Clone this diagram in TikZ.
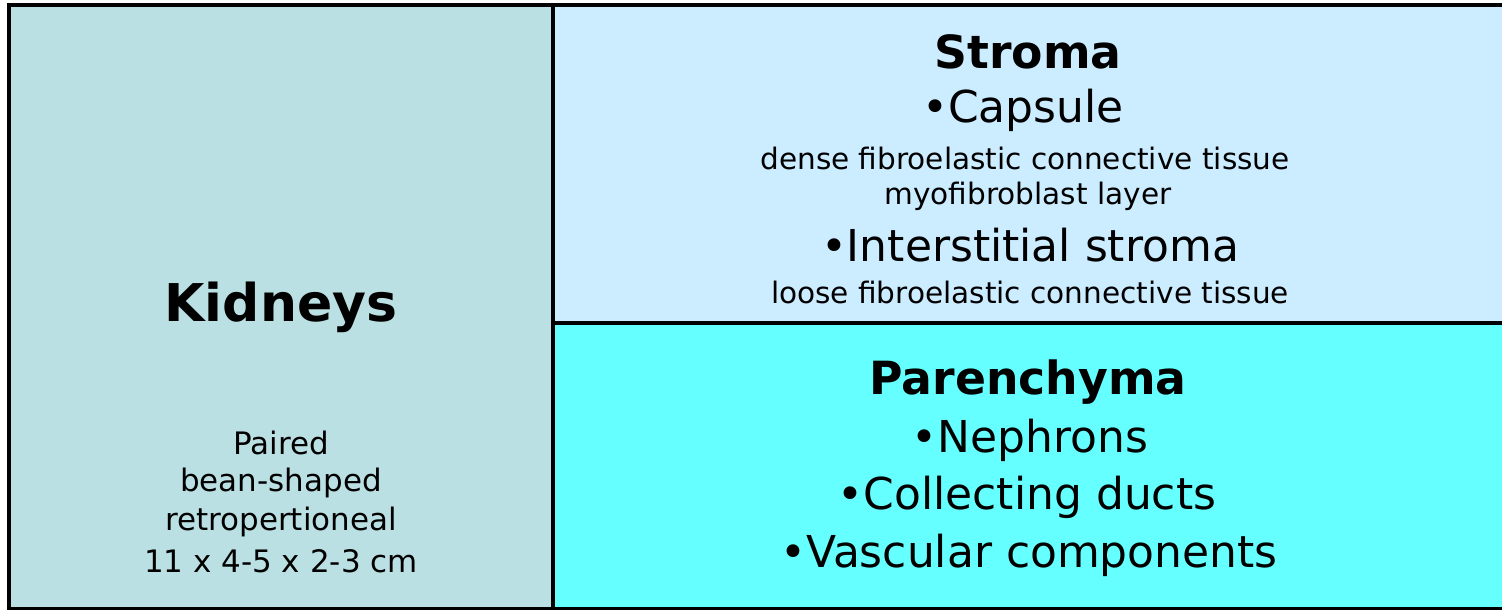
\documentclass[tikz,border=0pt]{standalone}
\usepackage{fontspec}
\setmainfont{DejaVu Sans}
\usetikzlibrary{positioning}
\definecolor{kidneyblue}{HTML}{BBE0E3}
\definecolor{stromablue}{HTML}{CCECFF}
\definecolor{parencyan}{HTML}{66FFFF}
\begin{document}
\begin{tikzpicture}[x=0.01cm, y=-0.01cm]
\tikzset{panel/.style={draw=black, line width=1.4pt}}
\tikzset{heading/.style={font=\fontsize{13}{15}\selectfont\bfseries, anchor=center, inner sep=0pt}}
\tikzset{entry/.style={font=\fontsize{12.5}{14}\selectfont, anchor=center, inner sep=0pt}}
\tikzset{detail/.style={font=\fontsize{8.4}{10}\selectfont, anchor=center, inner sep=0pt}}
\useasboundingbox (0,0) rectangle (1502,610);
% panels
\fill[kidneyblue] (9,5) rectangle (553,609);
\fill[stromablue] (553,5) rectangle (1502,323);
\fill[parencyan] (553,323) rectangle (1502,609);
\draw[panel] (1502,5) -- (9,5) -- (9,609) -- (1502,609);
\draw[panel] (553,5) -- (553,609);
\draw[panel] (553,323) -- (1502,323);
% left column
\node[heading, font=\fontsize{14.8}{16}\selectfont\bfseries] (kidneys) at (281,307) {Kidneys};
\node[detail, font=\fontsize{8.8}{10}\selectfont] (paired) at (281,443) {Paired};
\node[detail, font=\fontsize{8.8}{10}\selectfont] (bean) at (281,483) {bean-shaped};
\node[detail, font=\fontsize{8.8}{10}\selectfont] (retro) at (281,522) {retropertioneal};
\node[detail, font=\fontsize{8.8}{10}\selectfont] (size) at (281,561) {11 x 4-5 x 2-3 cm};
% stroma
\node[heading] (stroma) at (1028,52) {Stroma};
\node[entry] (capsule) at (1023,110) {•Capsule};
\node[detail] (dense) at (1025,158) {dense fibroelastic connective tissue};
\node[detail] (myo) at (1028,196) {myofibroblast layer};
\node[entry] (inter) at (1030,245) {•Interstitial stroma};
\node[detail] (loose) at (1030,292) {loose fibroelastic connective tissue};
% parenchyma
\node[heading] (paren) at (1028,382) {Parenchyma};
\node[entry] (nephrons) at (1030,440) {•Nephrons};
\node[entry] (ducts) at (1027,497) {•Collecting ducts};
\node[entry] (vasc) at (1029,555) {•Vascular components};
\end{tikzpicture}
\end{document}
